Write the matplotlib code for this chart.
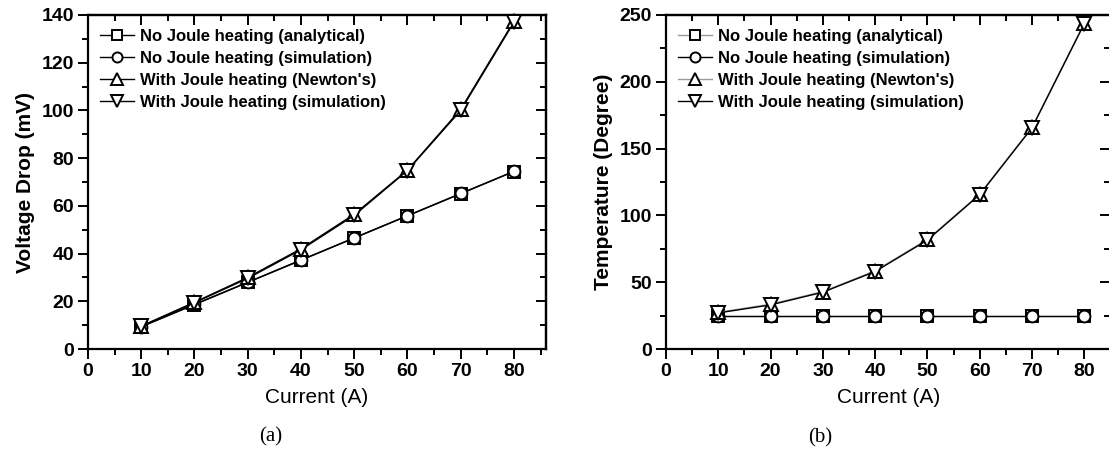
import numpy as np
import matplotlib
matplotlib.use("Agg")
import matplotlib.pyplot as plt
from matplotlib.ticker import MultipleLocator

plt.rcParams['font.family'] = ['Liberation Sans', 'DejaVu Sans']

# current values (A)
current = [10, 20, 30, 40, 50, 60, 70, 80]

# (a) voltage drop (mV)
v_nojoule_analytical = [9.3, 18.6, 27.9, 37.2, 46.5, 55.8, 65.1, 74.4]
v_nojoule_sim = [9.4, 18.7, 28.0, 37.3, 46.6, 55.9, 65.2, 74.5]
v_joule_newton = [9.6, 19.6, 30.0, 42.0, 56.5, 75.0, 100.5, 137.5]
v_joule_sim = [9.5, 19.4, 29.6, 41.6, 56.0, 74.8, 100.0, 137.0]

# (b) temperature (degree)
t_nojoule_analytical = [25, 25, 25, 25, 25, 25, 25, 25]
t_nojoule_sim = [25, 25, 25, 25, 25, 25, 25, 25]
t_joule_newton = [27.5, 33.5, 43.0, 58.5, 82.0, 116.0, 166.0, 244.0]
t_joule_sim = [27.0, 33.0, 42.5, 58.0, 81.5, 115.5, 165.5, 243.5]

labels = ["No Joule heating (analytical)", "No Joule heating (simulation)",
          "With Joule heating (Newton's)", "With Joule heating (simulation)"]

fig = plt.figure(figsize=(11.09, 4.57), dpi=100)
ax1 = fig.add_axes([0.0793, 0.2363, 0.4130, 0.7309])
ax2 = fig.add_axes([0.6005, 0.2363, 0.4008, 0.7309])


def draw(ax, ys, colors, ylim, ymaj, ylabel):
    markers = ['s', 'o', '^', 'v']
    sizes = [9, 8.5, 10.5, 10.5]
    for y, m, ms, c, lab in zip(ys, markers, sizes, colors, labels):
        ax.plot(current, y, color=c, lw=1.0, marker=m, ms=ms, mfc='white',
                mec='black', mew=1.4, label=lab, clip_on=False, zorder=3)
    ax.set_ylim(*ylim)
    ax.xaxis.set_major_locator(MultipleLocator(10))
    ax.xaxis.set_minor_locator(MultipleLocator(5))
    ax.yaxis.set_major_locator(MultipleLocator(ymaj))
    ax.yaxis.set_minor_locator(MultipleLocator(ymaj / 2))
    for s in ax.spines.values():
        s.set_linewidth(1.6)
    ax.tick_params(which='both', direction='out', width=1.4,
                   labelsize=14, pad=3)
    ax.tick_params(which='major', length=7)
    ax.tick_params(which='minor', length=4)
    # inward ticks on the top and right spines
    sec_x = ax.secondary_xaxis('top')
    sec_x.xaxis.set_major_locator(MultipleLocator(10))
    sec_x.xaxis.set_minor_locator(MultipleLocator(5))
    sec_x.tick_params(which='both', direction='in', width=1.4, labeltop=False)
    sec_x.tick_params(which='major', length=7)
    sec_x.tick_params(which='minor', length=4)
    sec_x.spines['top'].set_linewidth(1.6)
    sec_y = ax.secondary_yaxis('right')
    sec_y.yaxis.set_major_locator(MultipleLocator(ymaj))
    sec_y.yaxis.set_minor_locator(MultipleLocator(ymaj / 2))
    sec_y.tick_params(which='both', direction='in', width=1.4, labelright=False)
    sec_y.tick_params(which='major', length=7)
    sec_y.tick_params(which='minor', length=4)
    sec_y.spines['right'].set_linewidth(1.6)
    for lbl in ax.get_xticklabels() + ax.get_yticklabels():
        lbl.set_fontweight('bold')
    ax.set_xlabel("Current (A)", fontsize=15, labelpad=6)
    ax.set_ylabel(ylabel, fontsize=15, fontweight='bold', labelpad=5)
    leg = ax.legend(loc='upper left', bbox_to_anchor=(0.0, 0.995), frameon=False,
                    handlelength=2.0, handletextpad=0.35, labelspacing=0.42,
                    borderaxespad=0.35, prop={'size': 12, 'weight': 'bold'},
                    markerscale=0.85)
    return leg


draw(ax1, [v_nojoule_analytical, v_nojoule_sim, v_joule_newton, v_joule_sim],
     ['black'] * 4, (0, 140), 20, "Voltage Drop (mV)")
ax1.set_xlim(0, 86)

draw(ax2, [t_nojoule_analytical, t_nojoule_sim, t_joule_newton, t_joule_sim],
     ['#999999', 'black', '#999999', 'black'], (0, 250), 50,
     "Temperature (Degree)")
ax2.set_xlim(0, 85)

fig.text(0.244, 0.045, "(a)", family='Liberation Serif', fontsize=15,
         ha='center', va='center')
fig.text(0.740, 0.042, "(b)", family='Liberation Serif', fontsize=15,
         ha='center', va='center')

fig.savefig("out.png", dpi=100)
